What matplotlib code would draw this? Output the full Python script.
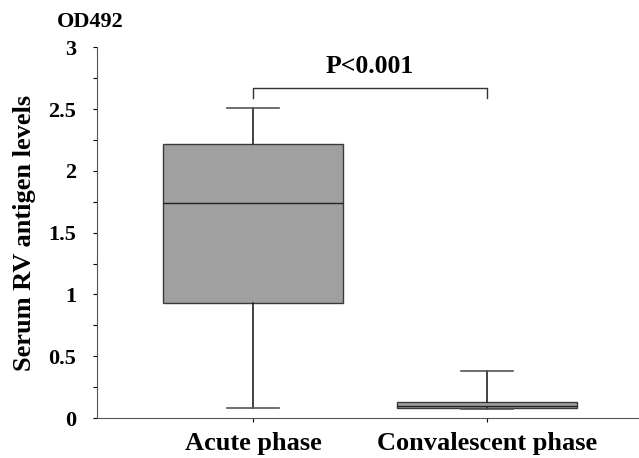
import matplotlib.pyplot as plt
from matplotlib.ticker import MultipleLocator

# Values
groups = ['Acute phase', 'Convalescent phase']
whislo = [0.08, 0.07]
q1 = [0.93, 0.08]
med = [1.74, 0.10]
q3 = [2.22, 0.13]
whishi = [2.51, 0.38]
p_text = 'P<0.001'

plt.rcParams['font.family'] = ['Liberation Serif', 'DejaVu Serif']
plt.rcParams['font.weight'] = 'bold'

stats = [dict(label=g, whislo=a, q1=b, med=c, q3=d, whishi=e)
         for g, a, b, c, d, e in zip(groups, whislo, q1, med, q3, whishi)]

fig = plt.figure(figsize=(6.39, 4.58), dpi=100)
ax = fig.add_axes([0.152, 0.087, 0.848, 0.81])

ax.bxp(stats, positions=[1, 2], widths=0.77, showfliers=False, patch_artist=True,
       boxprops=dict(facecolor='#a0a0a0', edgecolor='#3a3a3a', linewidth=1.0),
       medianprops=dict(color='#222222', linewidth=1.0),
       whiskerprops=dict(color='#222222', linewidth=1.2),
       capprops=dict(color='#555555', linewidth=1.2),
       capwidths=0.22)

ax.set_xlim(0.333, 2.65)
ax.set_ylim(0, 3)
ax.yaxis.set_major_locator(MultipleLocator(0.5))
ax.yaxis.set_minor_locator(MultipleLocator(0.25))
ax.set_yticks([0, 0.5, 1, 1.5, 2, 2.5, 3])
ax.set_yticklabels(['0', '0.5', '1', '1.5', '2', '2.5', '3'])
ax.tick_params(axis='y', which='both', direction='out', length=3, width=0.8,
               labelsize=16, pad=12)
ax.tick_params(axis='x', direction='out', length=3, width=0.8, labelsize=19, pad=7)
ax.spines['top'].set_visible(False)
ax.spines['right'].set_visible(False)
ax.spines['left'].set_color('#555555')
ax.spines['bottom'].set_color('#555555')

ax.set_ylabel('Serum RV antigen levels', fontsize=19, fontweight='bold', labelpad=9)
fig.text(0.142, 0.952, 'OD492', fontsize=16, fontweight='bold', ha='center', va='center')

# significance bracket
yb = 2.67
ax.plot([1, 1, 2, 2], [yb - 0.08, yb, yb, yb - 0.08], color='#333333', linewidth=1.0)
ax.text(1.5, yb + 0.17, p_text, ha='center', va='center', fontsize=18.5, fontweight='bold')

fig.savefig('out.png', dpi=100)
